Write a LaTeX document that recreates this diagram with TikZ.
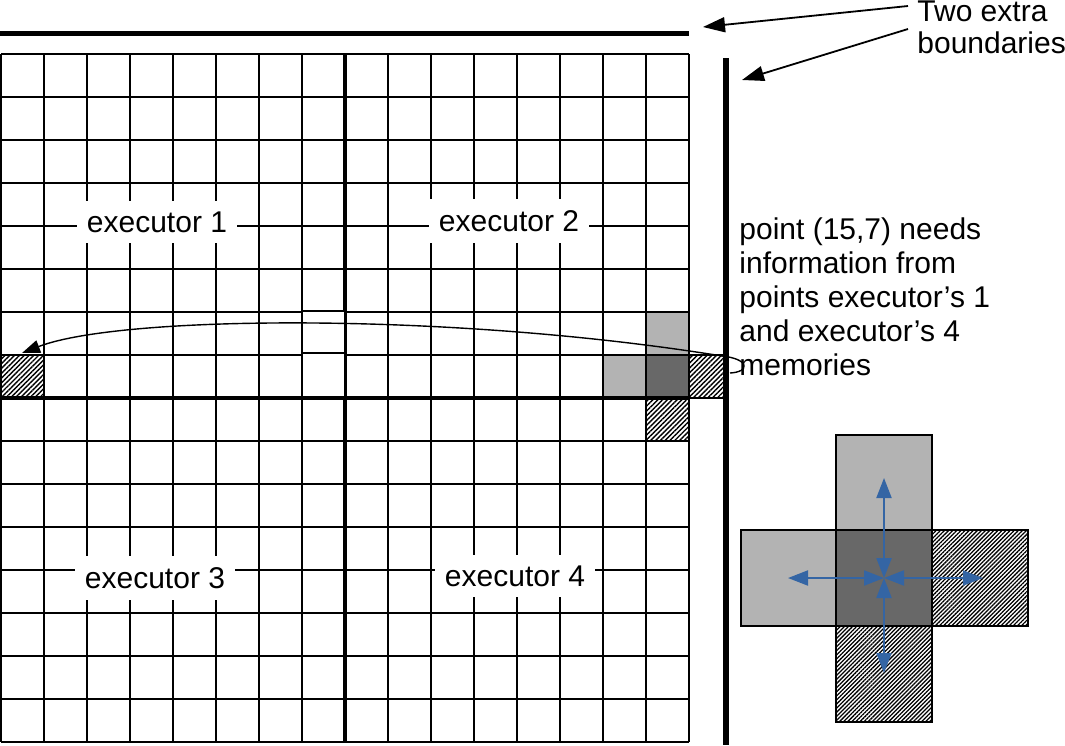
\documentclass[tikz,border=0pt]{standalone}
\usepackage{fontspec}
\setmainfont{Liberation Sans}
\usetikzlibrary{arrows.meta,patterns.meta}
\definecolor{lgray}{RGB}{179,179,179}
\definecolor{dgray}{RGB}{104,104,104}
\definecolor{arrblue}{RGB}{52,101,164}
\begin{document}
\begin{tikzpicture}[x=0.5pt,y=-0.5pt,
  gridline/.style={line width=1pt},
  hatch/.style={pattern={Lines[angle=45,distance=1.7pt,line width=0.7pt]}},
  finehatch/.style={pattern={Lines[angle=45,distance=1.45pt,line width=0.65pt]}},
  cellbox/.style={draw=black,line width=0.7pt},
  lab/.style={fill=white,inner xsep=5pt,inner ysep=5.5pt,font=\fontsize{15pt}{17pt}\selectfont},
  note/.style={inner sep=0pt,align=left,anchor=north west},
  callout/.style={line width=0.9pt,-{Triangle[length=11pt,width=7.5pt]}},
  curvearrow/.style={line width=0.7pt,-{Triangle[length=9pt,width=6.5pt]}},
  bluearrow/.style={draw=arrblue,line width=1pt,{Triangle[length=10pt,width=7.5pt]}-{Triangle[length=10pt,width=7.5pt]}}]
\useasboundingbox (0,0) rectangle (1065,745);
% highlighted cells in the grid
\fill[lgray] (646,312) rectangle (689,355);
\fill[lgray] (603,355) rectangle (646,398);
\fill[dgray] (646,355) rectangle (689,398);
\path[hatch] (646,398) rectangle (689,441);
\path[hatch] (1,355) rectangle (44,398);
\path[hatch] (689,355) rectangle (726,398);
\draw[cellbox] (689,355) rectangle (726,398);
% grid
\foreach \i in {0,...,16} {
  \draw[gridline] ({1+43*\i},54) -- ({1+43*\i},742);
  \draw[gridline] (1,{54+43*\i}) -- (689,{54+43*\i});
}
% thick boundaries
\draw[line width=2pt] (345,54) -- (345,742);
\draw[line width=2pt] (1,398) -- (689,398);
\draw[line width=2.5pt] (0,33) -- (689,33);
\draw[line width=3pt] (726,58) -- (726,745);
% shifted cells in column 8
\draw[fill=white,draw=black,line width=0.8pt] (302,311) rectangle (345,353);
\draw[fill=white,draw=black,line width=0.8pt] (302,353) rectangle (345,397);
% curved arrow
\coordinate (mem) at (730,373);
\coordinate (h1) at (22,353);
\draw[curvearrow] (mem) .. controls (750,372) and (750,359) .. (722,356)
  .. controls (450,312) and (120,315) .. (h1);
% executor labels
\node[lab] (e1) at (157,222) {executor 1};
\node[lab] (e2) at (509,221) {executor 2};
\node[lab] (e3) at (155,578) {executor 3};
\node[lab] (e4) at (515,576) {executor 4};
% right text
\node[note,font=\fontsize{15pt}{17pt}\selectfont] (info) at (739,217)
  {point (15,7) needs\\information from\\points executor’s 1\\and executor’s 4\\memories};
\node[note,font=\fontsize{15pt}{16pt}\selectfont] (two) at (917,0) {Two extra\\boundaries};
\coordinate (s1) at (908,6);
\coordinate (s2) at (908,29);
\coordinate (t1) at (703,27);
\coordinate (t2) at (742,80);
\draw[callout] (s1) -- (t1);
\draw[callout] (s2) -- (t2);
% stencil cross
\fill[lgray] (836,435) rectangle (932,530);
\fill[lgray] (741,530) rectangle (836,626);
\fill[dgray] (836,530) rectangle (932,626);
\path[finehatch] (932,530) rectangle (1028,626);
\path[finehatch] (836,626) rectangle (932,722);
\draw[cellbox] (836,435) rectangle (932,530);
\draw[cellbox] (741,530) rectangle (836,626);
\draw[cellbox] (836,530) rectangle (932,626);
\draw[cellbox] (932,530) rectangle (1028,626);
\draw[cellbox] (836,626) rectangle (932,722);
\coordinate (c) at (884,578);
\coordinate (cu) at (884,478);
\coordinate (cl) at (788,578);
\coordinate (cr) at (983,578);
\coordinate (cd) at (884,673);
\draw[bluearrow] (c) -- (cu);
\draw[bluearrow] (c) -- (cl);
\draw[bluearrow] (c) -- (cr);
\draw[bluearrow] (c) -- (cd);
\end{tikzpicture}
\end{document}
